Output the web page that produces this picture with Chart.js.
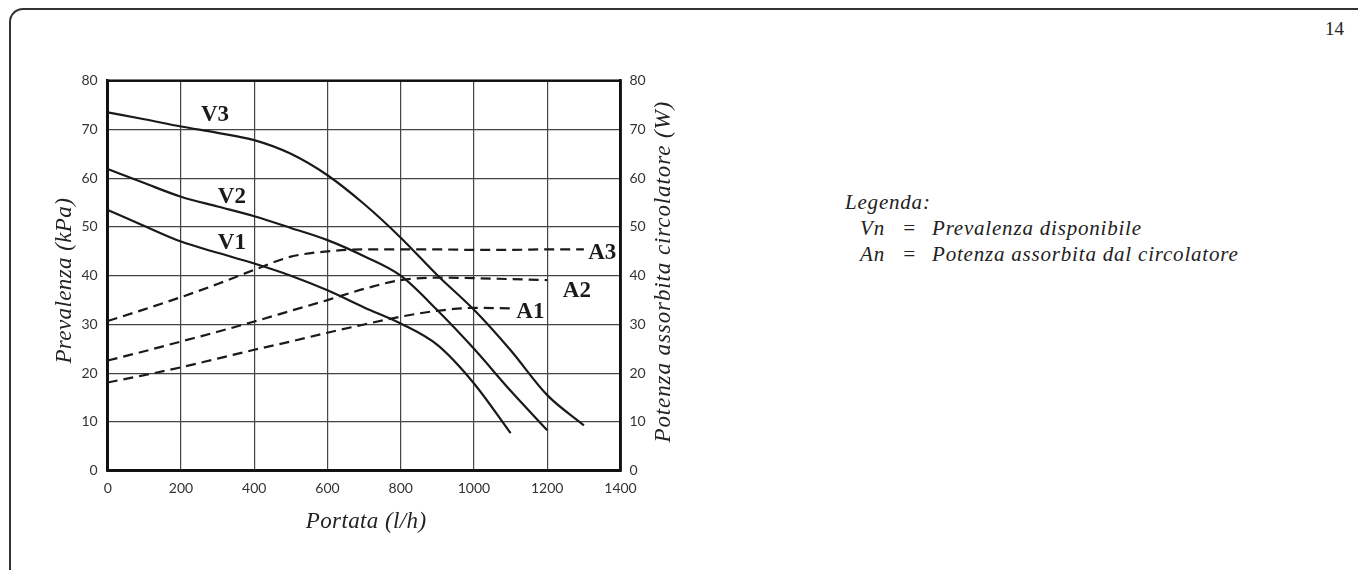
<!DOCTYPE html>
<html>
<head>
<meta charset="utf-8">
<script src="https://cdn.jsdelivr.net/npm/chart.js@4"></script>
<style>
  html, body { margin: 0; padding: 0; background: #fff; }
  body { width: 1358px; height: 570px; position: relative; overflow: hidden; }
  #frame {
    position: absolute; left: 9px; top: 8px; width: 1400px; height: 600px;
    border-top: 2px solid #333; border-left: 2px solid #333;
    border-top-left-radius: 14px;
  }
  #page-num {
    position: absolute; right: 14px; top: 18px;
    font-family: "Liberation Serif", serif; font-size: 19px; color: #222;
  }
  #legend {
    position: absolute; left: 845px; top: 189px;
    font-family: "Liberation Serif", serif; font-style: italic; font-size: 21px; color: #222;
    line-height: 26px; letter-spacing: 0.8px;
  }
  #legend .row { display: flex; padding-left: 15px; }
  #legend .k { width: 42px; }
  #legend .eq { width: 30px; text-align: left; }
  #chart { position: absolute; left: 0; top: 0; }
</style>
</head>
<body>
<div id="frame"></div>
<div id="page-num">14</div>
<div id="legend">
  <div>Legenda:</div>
  <div class="row"><span class="k">Vn</span><span class="eq">=</span><span>Prevalenza disponibile</span></div>
  <div class="row"><span class="k">An</span><span class="eq">=</span><span>Potenza assorbita dal circolatore</span></div>
</div>
<canvas id="chart" width="1358" height="570"></canvas>
<script>
// portata (l/h) and prevalenza (kPa) for each speed
const flowV3 = [0, 100, 200, 300, 400, 500, 600, 700, 800, 900, 1000, 1100, 1200, 1300];
const headV3 = [73.5, 72.1, 70.6, 69.3, 67.8, 65.0, 60.6, 54.7, 47.8, 40.1, 33.0, 24.7, 15.5, 9.3];
const flowV2 = [0, 100, 200, 300, 400, 500, 600, 700, 800, 900, 1000, 1100, 1200];
const headV2 = [61.9, 59.0, 56.2, 54.2, 52.2, 49.8, 47.3, 44.0, 40.0, 32.9, 25.0, 16.4, 8.3];
const flowV1 = [0, 100, 200, 300, 400, 500, 600, 700, 800, 900, 1000, 1100];
const headV1 = [53.5, 50.2, 47.0, 44.7, 42.5, 40.0, 37.0, 33.5, 30.2, 25.8, 17.9, 7.7];

// potenza assorbita (W)
const flowA3 = [0, 100, 200, 300, 400, 500, 600, 700, 800, 900, 1000, 1100, 1200, 1300];
const powerA3 = [30.7, 33.1, 35.6, 38.3, 41.2, 43.9, 45.0, 45.4, 45.4, 45.4, 45.3, 45.3, 45.4, 45.4];
const flowA2 = [0, 100, 200, 300, 400, 500, 600, 700, 800, 900, 1000, 1100, 1200];
const powerA2 = [22.6, 24.5, 26.5, 28.5, 30.6, 32.8, 35.0, 37.3, 39.1, 39.6, 39.5, 39.3, 39.1];
const flowA1 = [0, 100, 200, 300, 400, 500, 600, 700, 800, 900, 1000, 1100];
const powerA1 = [18.1, 19.6, 21.2, 23.0, 24.8, 26.5, 28.3, 30.0, 31.6, 32.8, 33.4, 33.3];

// curve names and where they sit (data coords)
const curveNames = ["V3", "V2", "V1", "A3", "A2", "A1"];
const nameFlow = [293, 339, 339, 1350, 1281, 1154];
const nameValue = [73, 56.2, 46.6, 44.7, 36.9, 32.6];

const xTitle = "Portata (l/h)";
const yTitle = "Prevalenza (kPa)";
const y2Title = "Potenza assorbita circolatore (W)";

const INK = "#1a1a1a";

function pts(xs, ys) {
    return xs.map((x, i) => ({ x: x, y: ys[i] }));
}

function curve(xs, ys, axis, dashed) {
    return {
        data: pts(xs, ys),
        yAxisID: axis,
        borderColor: INK,
        borderWidth: 2.2,
        borderDash: dashed ? [10, 6] : [],
        pointRadius: 0,
        fill: false,
        cubicInterpolationMode: "monotone",
    };
}

const extras = {
    id: "extras",
    beforeDatasetsDraw(c) {
        const a = c.chartArea;
        const ctx = c.ctx;
        ctx.save();
        ctx.strokeStyle = "#111";
        ctx.lineWidth = 2.5;
        ctx.strokeRect(a.left, a.top, a.right - a.left, a.bottom - a.top);
        ctx.restore();
    },
    afterDatasetsDraw(c) {
        const ctx = c.ctx;
        const a = c.chartArea;
        const sx = c.scales.x, sy = c.scales.y;
        ctx.save();
        ctx.fillStyle = INK;
        ctx.font = "bold 23px 'Liberation Serif'";
        ctx.textAlign = "center";
        ctx.textBaseline = "middle";
        curveNames.forEach((n, i) => {
            ctx.fillText(n, sx.getPixelForValue(nameFlow[i]), sy.getPixelForValue(nameValue[i]));
        });

        // axis titles
        ctx.fillStyle = "#222";
        ctx.font = "italic 23px 'Liberation Serif'";
        ctx.letterSpacing = "0.4px";
        ctx.fillText(xTitle, (a.left + a.right) / 2 + 2, a.bottom + 51);

        ctx.save();
        ctx.translate(a.left - 43, (a.top + a.bottom) / 2 + 5);
        ctx.rotate(-Math.PI / 2);
        ctx.fillText(yTitle, 0, 0);
        ctx.restore();

        ctx.save();
        ctx.letterSpacing = "0.9px";
        ctx.translate(a.right + 43, (a.top + a.bottom) / 2 - 4);
        ctx.rotate(-Math.PI / 2);
        ctx.fillText(y2Title, 0, 0);
        ctx.restore();
        ctx.restore();
    }
};

const tickFont = { family: "Lato", size: 14 };

new Chart(document.getElementById("chart"), {
    type: "line",
    data: {
        datasets: [
            curve(flowV3, headV3, "y", false),
            curve(flowV2, headV2, "y", false),
            curve(flowV1, headV1, "y", false),
            curve(flowA3, powerA3, "y2", true),
            curve(flowA2, powerA2, "y2", true),
            curve(flowA1, powerA1, "y2", true),
        ]
    },
    options: {
        responsive: false,
        animation: false,
        devicePixelRatio: 1,
        layout: { padding: { top: 80.7, left: 0, right: 0, bottom: 0 } },
        plugins: { legend: { display: false }, tooltip: { enabled: false } },
        scales: {
            x: {
                type: "linear", min: 0, max: 1400,
                ticks: { stepSize: 200, color: "#333", font: tickFont, padding: 9, maxRotation: 0,
                         callback: v => String(v) },
                grid: { color: "#444", lineWidth: 1.2, drawTicks: false },
                border: { color: "#111", width: 2.5 },
                afterFit: s => { s.height = 99.3; }
            },
            y: {
                position: "left", min: 0, max: 80,
                ticks: { stepSize: 10, color: "#333", font: tickFont, padding: 10 },
                grid: { color: "#444", lineWidth: 1.2, drawTicks: false },
                border: { color: "#111", width: 2.5 },
                afterFit: s => { s.width = 107.7; }
            },
            y2: {
                position: "right", min: 0, max: 80,
                ticks: { stepSize: 10, color: "#333", font: tickFont, padding: 9 },
                grid: { display: false, drawTicks: false },
                border: { color: "#111", width: 2.5 },
                afterFit: s => { s.width = 1358 - 620.5; }
            }
        }
    },
    plugins: [extras]
});
</script>
</body>
</html>
